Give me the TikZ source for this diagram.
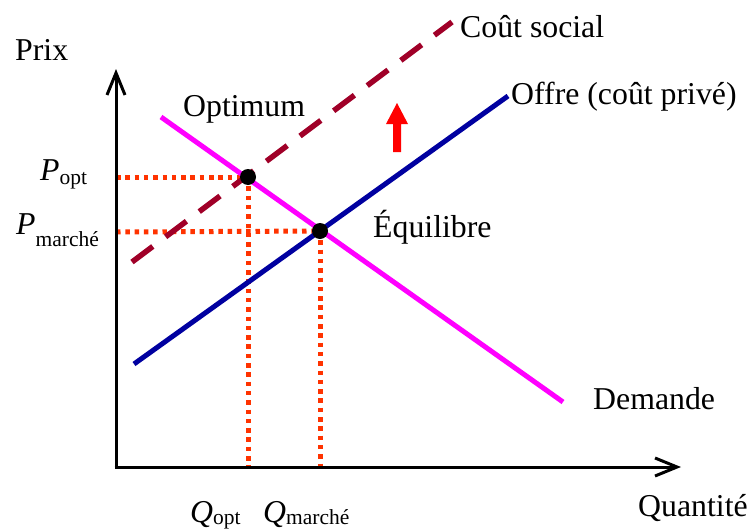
\documentclass[tikz,border=0pt]{standalone}
\usepackage{fontspec}
\setmainfont{Liberation Serif}
\usetikzlibrary{arrows.meta}
\definecolor{magentaline}{RGB}{255,0,255}
\definecolor{navyline}{RGB}{0,0,160}
\definecolor{socialred}{RGB}{160,0,40}
\definecolor{dotred}{RGB}{255,51,0}
\definecolor{arrowred}{RGB}{255,0,0}
\newcommand{\subtxt}[2]{\raisebox{-#2pt}{\fontsize{21.5}{22}\selectfont #1}}
\begin{document}
\begin{tikzpicture}[x=1pt,y=-1pt,
  lbl/.style={inner sep=0pt,anchor=base west,font=\fontsize{31.8}{36}\selectfont},
  axisline/.style={line width=3pt,-{Straight Barb[length=22pt,width=18pt,line width=3pt]}},
  guide/.style={dotred,line width=5pt,dash pattern=on 4.5pt off 4.8pt},
  eqdot/.style={circle,fill=black,inner sep=0pt,minimum size=16pt}]
\useasboundingbox (0,0) rectangle (752,530);
% coordinates
\coordinate (O) at (116,467);
\coordinate (ytop) at (116,69);
\coordinate (xend) at (681,467);
\coordinate (d1) at (161,117);
\coordinate (d2) at (563,402);
\coordinate (s1) at (134,364);
\coordinate (s2) at (508,96);
\coordinate (c1) at (132,262);
\coordinate (c2) at (452,22);
\coordinate (popt) at (116,177);
\coordinate (pmar) at (116,232);
\coordinate (qopt) at (248,467);
\coordinate (qmar) at (320,467);
% guides
\node[eqdot,fill=none,minimum size=0pt] (optc) at (248,177) {};
\node[eqdot,fill=none,minimum size=0pt] (eqc) at (320,231) {};
\draw[guide] (popt) -- (optc.center);
\draw[guide] (pmar) -- (eqc.center);
\draw[guide] (optc.center) -- (qopt);
\draw[guide] (eqc.center) -- (qmar);
% curves
\draw[socialred,line width=5.5pt,dash pattern=on 26pt off 16pt] (c1) -- (c2);
\draw[magentaline,line width=5pt] (d1) -- (d2);
\draw[navyline,line width=5pt] (s1) -- (s2);
% axes
\draw[axisline] ([yshift=1.5pt]O) -- (ytop);
\draw[axisline] ([xshift=-1.5pt]O) -- (xend);
% points
\node[eqdot] (opt) at (248,177) {};
\node[eqdot] (eq) at (320,231) {};
% red arrow
\fill[arrowred] (393,152) -- (401,152) -- (401,124) -- (408,124) -- (397,103) -- (386,124) -- (393,124) -- cycle;
% labels
\node[lbl] (prix) at (15,60) {Prix};
\node[lbl] (cout) at (460,37) {Coût social};
\node[lbl] (offre) at (511,104) {Offre (coût privé)};
\node[lbl] (optl) at (183,116) {Optimum};
\node[lbl] (eql) at (373,237) {Équilibre};
\node[lbl] (dem) at (593,409) {Demande};
\node[lbl] (quant) at (638,516) {Quantité};
\node[lbl] (poptl) at (40,180) {\textit{P}\subtxt{opt}{4}};
\node[lbl] (pmarl) at (16,234) {\textit{P}\subtxt{marché}{12}};
\node[lbl] (qoptl) at (190,522) {\textit{Q}\subtxt{opt}{2}};
\node[lbl] (qmarl) at (263,522) {\textit{Q}\subtxt{marché}{2}};
\end{tikzpicture}
\end{document}
